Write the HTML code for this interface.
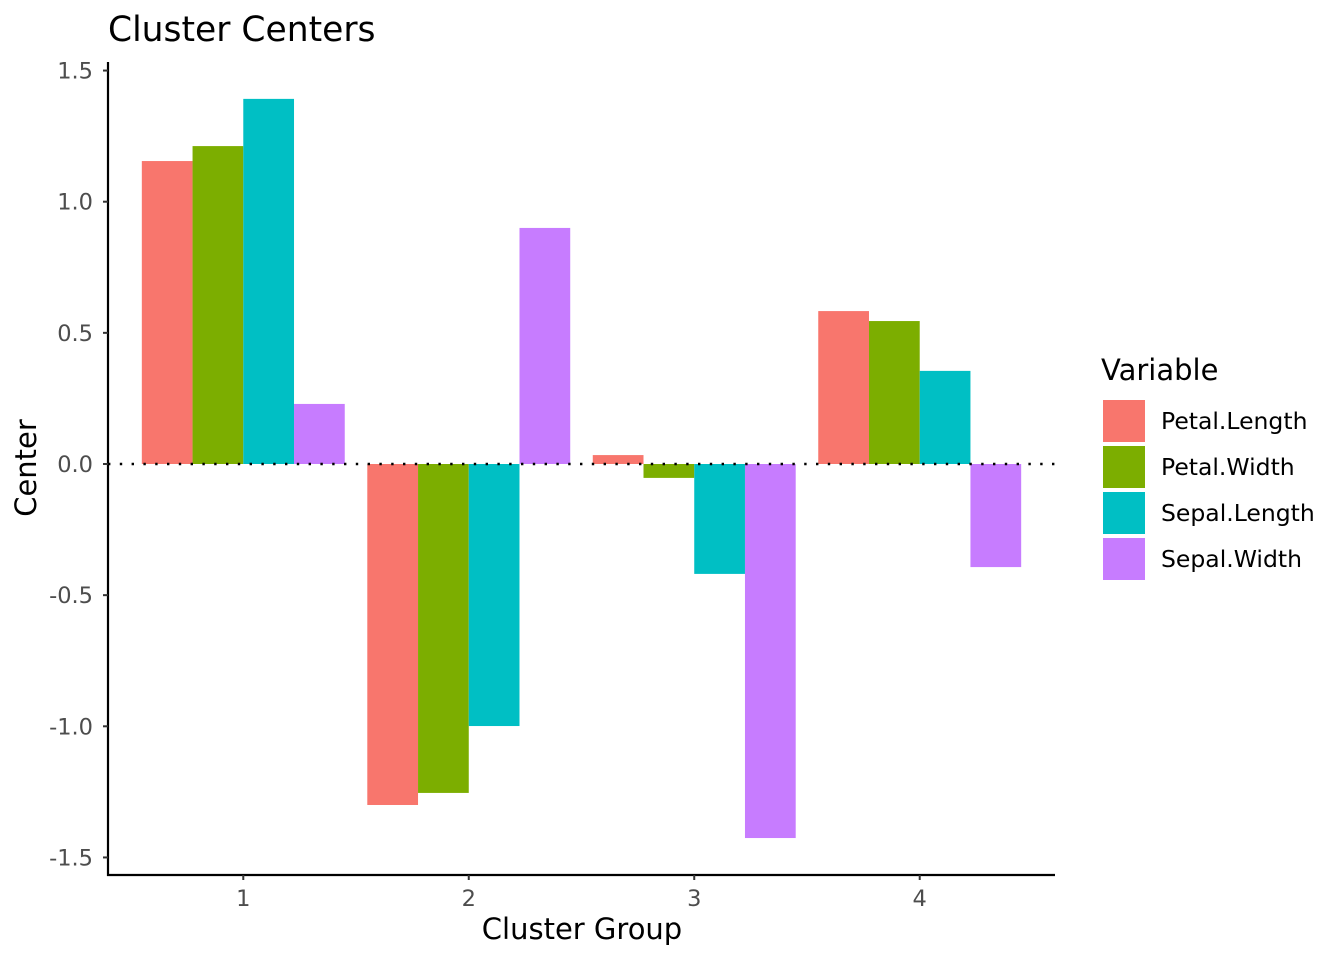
<!DOCTYPE html>
<html><head><meta charset="utf-8"><style>
body{margin:0;background:#fff;font-family:"DejaVu Sans","Liberation Sans",sans-serif}
</style></head><body>
<svg id="chart" width="1344" height="960" xmlns="http://www.w3.org/2000/svg" font-family="DejaVu Sans, Liberation Sans, sans-serif">
<text x="108" y="41" font-size="34.5" fill="#000">Cluster Centers</text>
<g id="plot"></g>
<text transform="translate(36,468) rotate(-90)" text-anchor="middle" font-size="29" fill="#000">Center</text>
<text x="582" y="939" text-anchor="middle" font-size="29" fill="#000">Cluster Group</text>
<text x="1101" y="380" font-size="29" fill="#000">Variable</text>
<g id="legend"></g>
</svg>
<script>
const categories=["1","2","3","4"];
const variables=["Petal.Length","Petal.Width","Sepal.Length","Sepal.Width"];
const colors=["#F8766D","#7CAE00","#00BFC4","#C77CFF"];
const petalLength=[1.155,-1.300,0.034,0.583];
const petalWidth=[1.212,-1.254,-0.053,0.545];
const sepalLength=[1.392,-0.999,-0.419,0.355];
const sepalWidth=[0.229,0.900,-1.426,-0.393];
const yTicks=[-1.5,-1.0,-0.5,0.0,0.5,1.0,1.5];
const yTickLabels=["-1.5","-1.0","-0.5","0.0","0.5","1.0","1.5"];
const series=[petalLength,petalWidth,sepalLength,sepalWidth];
const NS="http://www.w3.org/2000/svg";
const xL=108,xR=1055,yT=62,yB=875;
const y=v=>464-v*262.3;
const x=i=>xL+(i+1-0.4)/4.2*(xR-xL);
const band=(xR-xL)/4.2*0.9, bw=band/4;
const g=document.getElementById('plot');
function mk(t,a){const e=document.createElementNS(NS,t);for(const k in a)e.setAttribute(k,a[k]);return e;}
series.forEach((s,j)=>s.forEach((v,i)=>{
 const x0=x(i)-band/2+j*bw;
 const r=mk('rect',{x:x0,y:Math.min(y(v),y(0)),width:bw,height:Math.abs(y(v)-y(0)),fill:colors[j]});
 
 
 g.appendChild(r);
}));
const zl=mk('line',{x1:xL,x2:xR,y1:y(0),y2:y(0),stroke:'#000','stroke-width':2.4,'stroke-dasharray':'2.4 9.4'});


g.appendChild(zl);
const ya=mk('line',{x1:xL,x2:xL,y1:yT,y2:yB+1,stroke:'#000','stroke-width':2.2});


g.appendChild(ya);
const xa=mk('line',{x1:xL-1,x2:xR,y1:yB,y2:yB,stroke:'#000','stroke-width':2.2});


g.appendChild(xa);
yTicks.forEach((t,k)=>{
 g.appendChild(mk('line',{x1:xL-5,x2:xL,y1:y(t),y2:y(t),stroke:'#333','stroke-width':2}));
 const tx=mk('text',{x:xL-15,y:y(t)+8,'text-anchor':'end','font-size':22.5,fill:'#4d4d4d'});
 tx.textContent=yTickLabels[k];
 
 
 g.appendChild(tx);
});
categories.forEach((c,i)=>{
 g.appendChild(mk('line',{x1:x(i),x2:x(i),y1:yB,y2:yB+5,stroke:'#333','stroke-width':2}));
 const tx=mk('text',{x:x(i),y:yB+31,'text-anchor':'middle','font-size':22.5,fill:'#4d4d4d'});
 tx.textContent=c;
 
 
 g.appendChild(tx);
});
const lg=document.getElementById('legend');
variables.forEach((v,j)=>{
 const yy=400+j*46;
 const r=mk('rect',{x:1103,y:yy,width:42,height:42,fill:colors[j]});
 
 
 lg.appendChild(r);
 const t=mk('text',{x:1161,y:yy+29,'font-size':23.5,fill:'#000'});
 t.textContent=v;
 
 
 lg.appendChild(t);
});
</script>
</body></html>
